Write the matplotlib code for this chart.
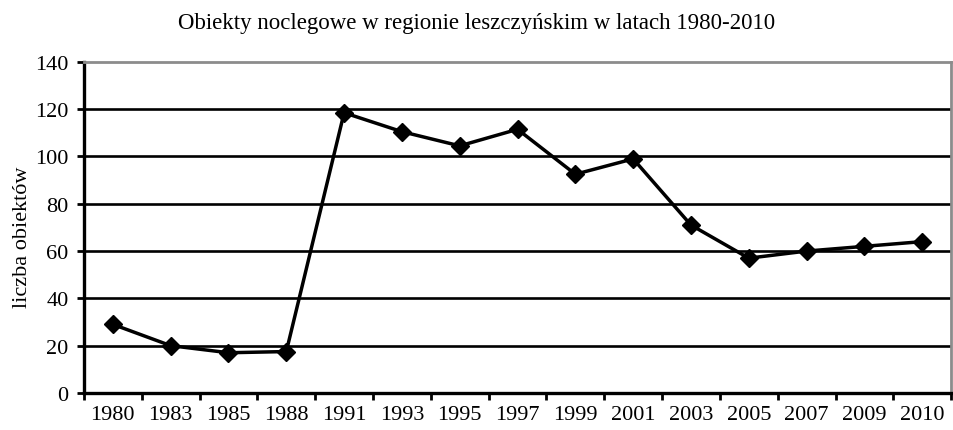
import matplotlib
matplotlib.use("Agg")
import matplotlib.pyplot as plt

years = ["1980", "1983", "1985", "1988", "1991", "1993", "1995", "1997",
         "1999", "2001", "2003", "2005", "2007", "2009", "2010"]
obiekty = [29, 20, 17, 17.5, 118.5, 110.5, 104.5, 111.5,
           92.5, 99, 71, 57, 60, 62, 64]
y_ticks = [0, 20, 40, 60, 80, 100, 120, 140]

plt.rcParams["font.family"] = ["Liberation Serif", "DejaVu Serif"]

fig = plt.figure(figsize=(9.54, 4.31), dpi=100)
ax = fig.add_axes([0.088, 0.086, 0.909, 0.768])

x = list(range(len(years)))
for yv in y_ticks[1:-1]:
    ax.axhline(yv, color="black", linewidth=1.9, zorder=1)

ax.plot(x, obiekty, color="black", linewidth=2.5, marker="D",
        markersize=9.5, zorder=3, clip_on=False)

ax.set_xlim(-0.5, len(years) - 0.5)
ax.set_ylim(0, 140)
ax.set_yticks(y_ticks)
ax.set_yticklabels([str(v) for v in y_ticks], fontsize=16)

# kategorie między znacznikami (jak w Excelu)
ax.set_xticks([i - 0.5 for i in range(len(years) + 1)])
ax.set_xticklabels([])
ax.set_xticks(x, minor=True)
ax.set_xticklabels(years, minor=True, fontsize=16)
ax.tick_params(axis="x", which="minor", length=0, pad=9)
ax.tick_params(axis="x", which="major", length=5, width=2, direction="out")
ax.tick_params(axis="y", length=5, width=2, direction="out", pad=6)

for side in ("left", "bottom"):
    ax.spines[side].set_linewidth(2.4)
    ax.spines[side].set_color("black")
for side in ("top", "right"):
    ax.spines[side].set_linewidth(2)
    ax.spines[side].set_color("#8c8c8c")

ax.set_ylabel("liczba obiektów", fontsize=16)
ax.yaxis.label.set_va("center")
ax.yaxis.set_label_coords(-0.071, 0.474)
fig.text(0.5, 0.945, "Obiekty noclegowe w regionie leszczyńskim w latach 1980-2010",
         ha="center", va="center", fontsize=16.5)

fig.savefig("out.png", dpi=100)
